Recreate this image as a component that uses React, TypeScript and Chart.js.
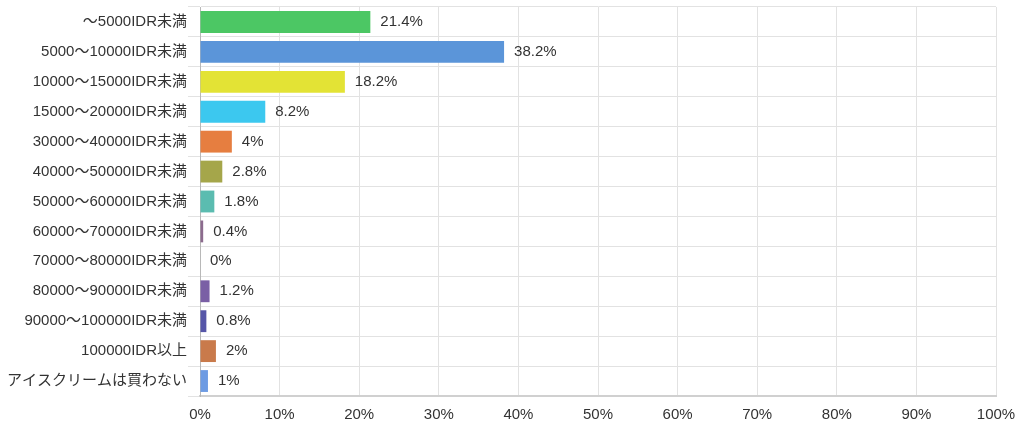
import React, { useEffect, useRef } from "react";
import { Chart, registerables } from "chart.js";

Chart.register(...registerables);

const categories = [
  "～5000IDR未満",
  "5000～10000IDR未満",
  "10000～15000IDR未満",
  "15000～20000IDR未満",
  "30000～40000IDR未満",
  "40000～50000IDR未満",
  "50000～60000IDR未満",
  "60000～70000IDR未満",
  "70000～80000IDR未満",
  "80000～90000IDR未満",
  "90000～100000IDR未満",
  "100000IDR以上",
  "アイスクリームは買わない",
];

const percentages = [21.4, 38.2, 18.2, 8.2, 4, 2.8, 1.8, 0.4, 0, 1.2, 0.8, 2, 1];

const barColors = [
  "#4cc764",
  "#5b95d9",
  "#e3e335",
  "#3cc8ef",
  "#e67e40",
  "#a5a64a",
  "#5bbcb0",
  "#8c6b8e",
  "#9a9a9a",
  "#7a5fa5",
  "#5656a8",
  "#c97a4b",
  "#6d9be3",
];

const xTickValues = [0, 10, 20, 30, 40, 50, 60, 70, 80, 90, 100];

const FONT = '"Liberation Sans", Arial, "Noto Sans CJK JP", sans-serif';

const valueLabelPlugin = {
  id: "valueLabels",
  afterDatasetsDraw(chart: any) {
    const ctx = chart.ctx;
    const meta = chart.getDatasetMeta(0);
    ctx.save();
    ctx.font = `15px ${FONT}`;
    ctx.fillStyle = "#333333";
    ctx.textAlign = "left";
    ctx.textBaseline = "middle";
    meta.data.forEach((bar: any, i: number) => {
      const v = percentages[i];
      ctx.fillText(`${v}%`, bar.x + 10, bar.y);
    });
    ctx.restore();
  },
};

export default function App() {
  const canvasRef = useRef<HTMLCanvasElement | null>(null);

  useEffect(() => {
    if (!canvasRef.current) return;
    const chart = new Chart(canvasRef.current, {
      type: "bar",
      data: {
        labels: categories,
        datasets: [
          {
            data: percentages,
            backgroundColor: barColors,
            borderWidth: 0,
            barPercentage: 0.73,
            categoryPercentage: 1,
          },
        ],
      },
      options: {
        indexAxis: "y",
        animation: false,
        responsive: true,
        maintainAspectRatio: false,
        layout: { padding: { top: 7, right: 28, left: 0, bottom: 0 } },
        plugins: {
          legend: { display: false },
          tooltip: { enabled: false },
        },
        scales: {
          x: {
            min: 0,
            max: 100,
            afterBuildTicks: (scale: any) => {
              scale.ticks = xTickValues.map((v) => ({ value: v }));
            },
            afterFit: (scale: any) => {
              scale.height = 38;
              scale.paddingLeft = 0;
              scale.paddingRight = 0;
            },
            ticks: {
              callback: (v: any) => `${v}%`,
              font: { size: 15, family: FONT },
              color: "#333333",
              padding: 10,
              maxRotation: 0,
            },
            grid: {
              color: "#e2e2e2",
              drawTicks: false,
            },
            border: { color: "#d0d0d0", width: 2 },
          },
          y: {
            afterFit: (scale: any) => {
              scale.width = 200;
              scale.paddingTop = 0;
              scale.paddingBottom = 0;
            },
            ticks: {
              font: { size: 15, family: FONT },
              color: "#333333",
              padding: 1,
              autoSkip: false,
            },
            grid: {
              color: "#e2e2e2",
              tickLength: 12,
            },
            border: { color: "#b8b8b8", width: 1 },
          },
        },
      },
      plugins: [valueLabelPlugin],
    });
    return () => chart.destroy();
  }, []);

  return (
    <div
      style={{
        position: "fixed",
        left: 0,
        top: 0,
        width: 1024,
        height: 434,
        background: "#ffffff",
      }}
    >
      <canvas ref={canvasRef} />
    </div>
  );
}
